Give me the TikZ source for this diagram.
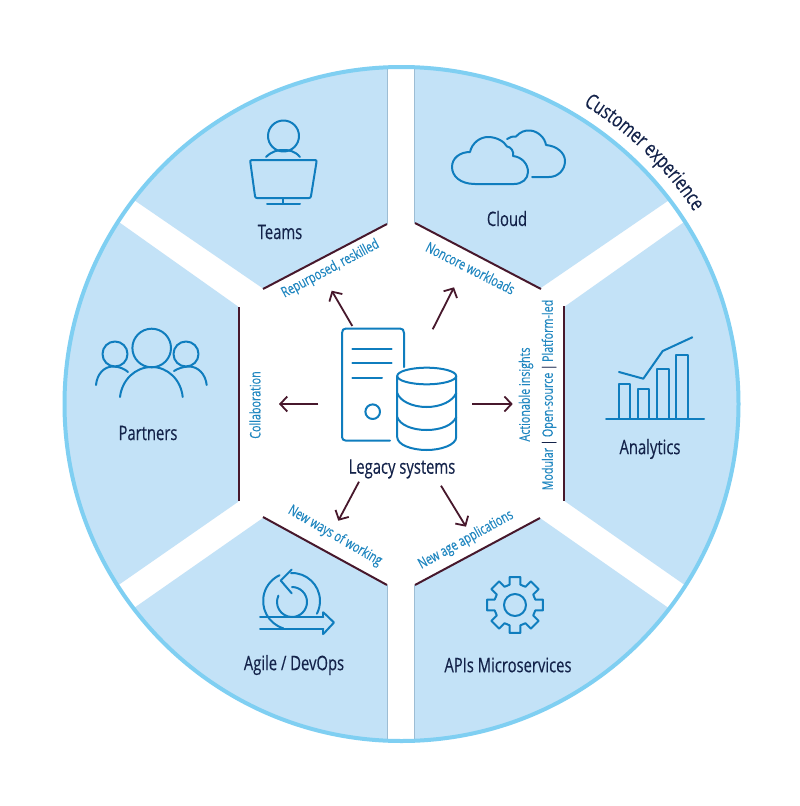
\documentclass[tikz,border=0pt]{standalone}
\usepackage{fontspec}
\setmainfont[FakeStretch=0.74,FakeBold=0.25]{Open Sans}
\usetikzlibrary{arrows.meta,decorations.text,calc}
\definecolor{ring}{HTML}{7FCFF2}
\definecolor{sector}{HTML}{C3E2F7}
\definecolor{iconblue}{HTML}{0F7DBE}
\definecolor{labelblue}{HTML}{1F86C0}
\definecolor{darktext}{HTML}{14234A}
\definecolor{maroon}{HTML}{47182C}
\definecolor{hair}{HTML}{9DBDD4}
\tikzset{
  sectorfill/.style={fill=sector,draw=none},
  icon/.style={draw=iconblue,line width=2pt,line cap=round,line join=round,fill=none},
  wall/.style={draw=maroon,line width=2pt},
  flow/.style={draw=maroon,line width=1.8pt,-{Straight Barb[length=7pt,width=15pt,line width=1.8pt]}},
  hairline/.style={draw=hair,line width=0.7pt},
  bigtext/.style={text=darktext,font=\fontsize{20}{22}\selectfont,inner sep=0pt},
  smalltext/.style={text=labelblue,font=\fontsize{14.5}{16}\selectfont,inner sep=0pt},
}
\begin{document}
\begin{tikzpicture}[x=1pt,y=-1pt]
\useasboundingbox (0,0) rectangle (800,806);
\fill[white] (0,0) rectangle (800,806);
\coordinate (ctr) at (401.5,404);
\begin{scope}
  \clip (401.5,404) circle[radius=337];
  \path[sectorfill] (387,0) -- (387,224) -- (263,288.5) -- (71,156.8) -- (71,0) -- cycle;
  \path[sectorfill] (415,0) -- (415,223) -- (540,288.5) -- (732,157) -- (732,0) -- cycle;
  \path[sectorfill] (0,181) -- (61,181) -- (238.3,306.7) -- (238.3,501.7) -- (61,625) -- (0,625) -- cycle;
  \path[sectorfill] (800,181) -- (742,181) -- (564.5,306.7) -- (564.5,501) -- (742,625) -- (800,625) -- cycle;
  \path[sectorfill] (387,806) -- (387,585) -- (263.3,517.7) -- (71,652) -- (71,806) -- cycle;
  \path[sectorfill] (415,806) -- (415,585) -- (540,518) -- (730,651) -- (730,806) -- cycle;
  \draw[hairline] (387.5,0) -- (387.5,224);
  \draw[hairline] (414.5,0) -- (414.5,223);
  \draw[hairline] (387.5,806) -- (387.5,585);
  \draw[hairline] (414.5,806) -- (414.5,585);
\end{scope}
\draw[ring,line width=4pt] (401.5,404) circle[radius=337];
% inner walls
\draw[wall] (263,289) -- (387,224);
\draw[wall] (415,223) -- (541,289);
\draw[wall] (239,307) -- (239,501);
\draw[wall] (564,306) -- (564,501);
\draw[wall] (263,517) -- (387,585);
\draw[wall] (415,585) -- (540,518);
% teams icon
\draw[icon] (283.5,136) circle[radius=15.5];
\draw[icon] (266,157) .. controls (272,151) and (278,150) .. (283.5,150) .. controls (289,150) and (295,151) .. (300,157);
\draw[icon] (252,160) -- (315,160) .. controls (316.5,160) and (316.7,161) .. (316.5,162) -- (311,196) .. controls (310.8,197.5) and (310,198) .. (309,198) -- (257,198) .. controls (256,198) and (255.2,197.5) .. (255,196) -- (250.3,162) .. controls (250,161) and (250.5,160) .. (252,160) -- cycle;
\draw[icon] (283,198) -- (283,204);
\draw[icon] (267,204) -- (300,204);
% cloud icon
\draw[icon] (514,184) -- (475,184) .. controls (460,184) and (452,176) .. (452,167) .. controls (452,158) and (460,152) .. (470,152) .. controls (472,143) and (480,137) .. (488,137) .. controls (496,137) and (504,141) .. (507,146.5) .. controls (511,147) and (514,151) .. (513,156) .. controls (522,157) and (528,164) .. (528,172) .. controls (528,179) and (522,184) .. (514,184);
\draw[icon] (507,139) .. controls (510,137) and (513,136) .. (516,136.5) .. controls (520,132) and (525,130) .. (530,130.5) .. controls (538,131) and (545,138) .. (546,145) .. controls (557,146) and (565,153) .. (565,161) .. controls (565,170) and (558,177) .. (549,177) -- (532,177);
% partners icon
\draw[icon] (151.7,348) circle[radius=19.3];
\draw[icon] (120,397) .. controls (122,380) and (135,367) .. (151.7,367) .. controls (168,367) and (181,380) .. (182.7,397);
\draw[icon] (115,354) circle[radius=12.5];
\draw[icon] (96,385) .. controls (97,374) and (104,366.5) .. (113,366.5) .. controls (119,366.5) and (125,369) .. (128,372);
\draw[icon] (186,354) circle[radius=12.5];
\draw[icon] (206.7,385) .. controls (205.5,374) and (198,366.5) .. (189,366.5) .. controls (183,366.5) and (177,369) .. (174,371);
% analytics icon
\draw[icon] (606,418.7) -- (704,418.7);
\draw[icon,line cap=butt] (618.5,418.7) -- (618.5,384) -- (630,384) -- (630,418.7);
\draw[icon,line cap=butt] (637.7,418.7) -- (637.7,389.3) -- (649.3,389.3) -- (649.3,418.7);
\draw[icon,line cap=butt] (656.7,418.7) -- (656.7,369) -- (668.7,369) -- (668.7,418.7);
\draw[icon,line cap=butt] (675.7,418.7) -- (675.7,355) -- (687.7,355) -- (687.7,418.7);
\draw[icon] (619,372) -- (643.3,378.7) -- (662.7,351) -- (692.3,337.3);
% agile icon
\draw[icon] (291,573) arc[start angle=-92,end angle=27,radius=28];
\draw[icon] (283.3,628.3) arc[start angle=107,end angle=245,radius=28.5];
\draw[icon] (291.7,569.5) -- (280.7,580.5) -- (291.7,593.3);
\draw[icon] (292,587) arc[start angle=-90,end angle=205,radius=15];
\draw[icon] (260,616.7) -- (323.3,616.7);
\draw[icon] (323.3,612.3) -- (334,622.5) -- (323.3,634);
\draw[icon] (323.3,612.3) -- (323.3,616.7);
\draw[icon] (323.3,634) -- (323.3,629);
\draw[icon] (323.3,629) -- (260,629);
% gear icon
\draw[icon] (515,605) circle[radius=11];
\draw[icon] ($(515,605)+(-15:21)$) \foreach \a in {0,45,...,315} {
  -- ($(515,605)+(\a-11:28.5)$) -- ($(515,605)+(\a+11:28.5)$) -- ($(515,605)+(\a+15:21)$) -- ($(515,605)+(\a+30:21)$)
} -- cycle;
% legacy icon
\draw[icon] (390,440.7) -- (346,440.7) .. controls (343.5,440.7) and (342,439) .. (342,437) -- (342,333) .. controls (342,330) and (343.5,328.5) .. (346,328.5) -- (400,328.5) .. controls (402.5,328.5) and (404,330) .. (404,333) -- (404,367);
\draw[icon] (352.3,349) -- (391.7,349);
\draw[icon] (352.3,363.3) -- (391.7,363.3);
\draw[icon] (352.3,377.7) -- (382,377.7);
\draw[icon] (372.7,411.7) circle[radius=7.3];
\draw[icon] (426.7,376) ellipse[x radius=29.5,y radius=8.3];
\draw[icon] (397.2,376) -- (397.2,437) .. controls (397.2,445) and (412,450) .. (426.7,450) .. controls (441,450) and (456.2,445) .. (456.2,437) -- (456.2,376);
\draw[icon] (397.2,393) .. controls (400,401) and (412,407) .. (426.7,407) .. controls (441,407) and (453,401) .. (456.2,393);
\draw[icon] (397.2,417) .. controls (400,425) and (412,430) .. (426.7,430) .. controls (441,430) and (453,425) .. (456.2,417);
% arrows
\coordinate (s1) at (352.3,326); \coordinate (e1) at (331.7,290.7);
\coordinate (s2) at (432.7,329.3); \coordinate (e2) at (454,287.3);
\coordinate (s3) at (318.3,404); \coordinate (e3) at (279,404);
\coordinate (s4) at (472,404); \coordinate (e4) at (512.7,404);
\coordinate (s5) at (359,481.7); \coordinate (e5) at (338.3,520.7);
\coordinate (s6) at (441,485.7); \coordinate (e6) at (466,526.7);
\draw[flow] (s1) -- (e1);
\draw[flow] (s2) -- (e2);
\draw[flow] (s3) -- (e3);
\draw[flow] (s4) -- (e4);
\draw[flow] (s5) -- (e5);
\draw[flow] (s6) -- (e6);
% big labels
\node[bigtext] (teams) at (280,232) {Teams};
\node[bigtext] (cloud) at (507,218.5) {Cloud};
\node[bigtext] (partners) at (148,433) {Partners};
\node[bigtext] (analytics) at (650,449) {Analytics};
\node[bigtext] (agile) at (294,665) {Agile / DevOps};
\node[bigtext] (apis) at (508,665) {APIs Microservices};
\node[bigtext] (legacy) at (402,469) {Legacy systems};
% small labels
\node[smalltext,rotate=28] (lrep) at (330.5,269) {Repurposed, reskilled};
\node[smalltext,rotate=-27] (lnon) at (470.5,268) {Noncore workloads};
\node[smalltext,rotate=90] (lcol) at (255,405) {Collaboration};
\node[smalltext,rotate=90] (lact) at (526,394.5) {Actionable insights};
\node[smalltext,rotate=90] (lmod) at (549,395) {Modular\,{\color{darktext}|}\,Open-source\,{\color{darktext}|}\,Platform-led};
\node[smalltext,rotate=-30] (lnew) at (335,536) {New ways of working};
\node[smalltext,rotate=29] (lage) at (466,540) {New age applications};
% customer experience
\path[decorate,decoration={text along path,text align=center,text={|\fontsize{21}{22}\selectfont\color{darktext}|Customer experience}}]
  (ctr) ++(-64:350) arc[start angle=-64,end angle=-28,radius=350];
\end{tikzpicture}
\end{document}
